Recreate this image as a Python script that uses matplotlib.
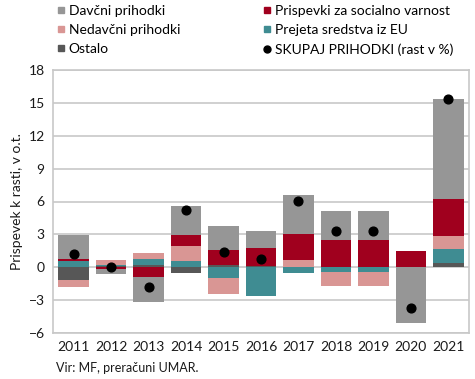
import matplotlib
matplotlib.use("Agg")
import matplotlib.pyplot as plt
from matplotlib.lines import Line2D
import numpy as np

plt.rcParams['font.family'] = ['Lato', 'DejaVu Sans']

years = ['2011', '2012', '2013', '2014', '2015', '2016', '2017', '2018', '2019', '2020', '2021']
davcni    = [2.17, -0.45, -2.35, 2.69, 2.26, 1.50, 3.50, 2.60, 2.60, -5.05, 9.09]
prispevki = [0.21, -0.20, -0.85, 1.01, 1.28, 1.65, 2.35, 2.50, 2.50, 1.45, 3.41]
nedavcni  = [-0.67, 0.45, 0.50, 1.32, -1.45, 0.00, 0.70, -1.25, -1.25, 0.00, 1.22]
eu        = [0.58, 0.15, 0.58, 0.60, -1.00, -2.60, -0.50, -0.45, -0.45, 0.00, 1.22]
ostalo    = [-1.16, 0.07, 0.20, -0.50, 0.25, 0.12, 0.00, 0.00, 0.00, 0.00, 0.40]
skupaj    = [1.25, 0.05, -1.83, 5.20, 1.41, 0.76, 6.04, 3.35, 3.35, -3.75, 15.37]

colors = {'Davčni prihodki': '#969696', 'Prispevki za socialno varnost': '#A0001E',
          'Nedavčni prihodki': '#D99694', 'Prejeta sredstva iz EU': '#3F8C92',
          'Ostalo': '#575757'}
series = {'Davčni prihodki': davcni, 'Prispevki za socialno varnost': prispevki,
          'Nedavčni prihodki': nedavcni, 'Prejeta sredstva iz EU': eu, 'Ostalo': ostalo}
stack_order = ['Ostalo', 'Prejeta sredstva iz EU', 'Nedavčni prihodki',
               'Prispevki za socialno varnost', 'Davčni prihodki']

fig = plt.figure(figsize=(4.75, 3.79), dpi=100)
ax = fig.add_axes([53/475, 1-333/379, (469-53)/475, (333-70)/379])

x = np.arange(len(years))
pos_base = np.zeros(len(years))
neg_base = np.zeros(len(years))
w = 0.82
for name in stack_order:
    v = np.array(series[name], dtype=float)
    pos = np.where(v > 0, v, 0)
    neg = np.where(v < 0, v, 0)
    ax.bar(x, pos, w, bottom=pos_base, color=colors[name], edgecolor='none', zorder=3)
    ax.bar(x, neg, w, bottom=neg_base, color=colors[name], edgecolor='none', zorder=3)
    pos_base += pos
    neg_base += neg

ax.plot(x, skupaj, 'o', color='black', markersize=6.3, zorder=5, linestyle='none')

ax.set_ylim(-6, 18)
ax.set_yticks(np.arange(-6, 19, 3))
ax.set_xlim(-0.55, len(years) - 0.45)
ax.set_xticks(x)
ax.set_xticklabels(years)
ax.grid(axis='y', color='#c8c8c8', linewidth=1.2, zorder=0)
ax.set_axisbelow(True)
for s in ax.spines.values():
    s.set_color('#c8c8c8')
    s.set_linewidth(1.2)
ax.tick_params(axis='both', length=0, labelsize=10, colors='#1a1a1a', pad=6)
ax.set_ylabel('Prispevek k rasti, v o.t.', fontsize=10, color='#1a1a1a', labelpad=4)

handles = [Line2D([], [], marker='s', linestyle='none', color=colors[n], markersize=5)
           for n in ['Davčni prihodki', 'Nedavčni prihodki', 'Ostalo',
                     'Prispevki za socialno varnost', 'Prejeta sredstva iz EU']]
handles.append(Line2D([], [], marker='o', linestyle='none', color='black', markersize=5))
leg_labels = ['Davčni prihodki', 'Nedavčni prihodki', 'Ostalo',
              'Prispevki za socialno varnost', 'Prejeta sredstva iz EU',
              'SKUPAJ PRIHODKI (rast v %)']
fig.legend(handles, leg_labels, ncol=2, loc='upper left', bbox_to_anchor=(52/475, 1.002),
           frameon=False, fontsize=10, handlelength=0.5, handletextpad=0.3,
           columnspacing=6.0, labelspacing=0.52, borderaxespad=0)

fig.text(56/475, 1-368/379, 'Vir: MF, preračuni UMAR.', fontsize=9, color='#1a1a1a', va='center')

fig.savefig('out.png', dpi=100)
